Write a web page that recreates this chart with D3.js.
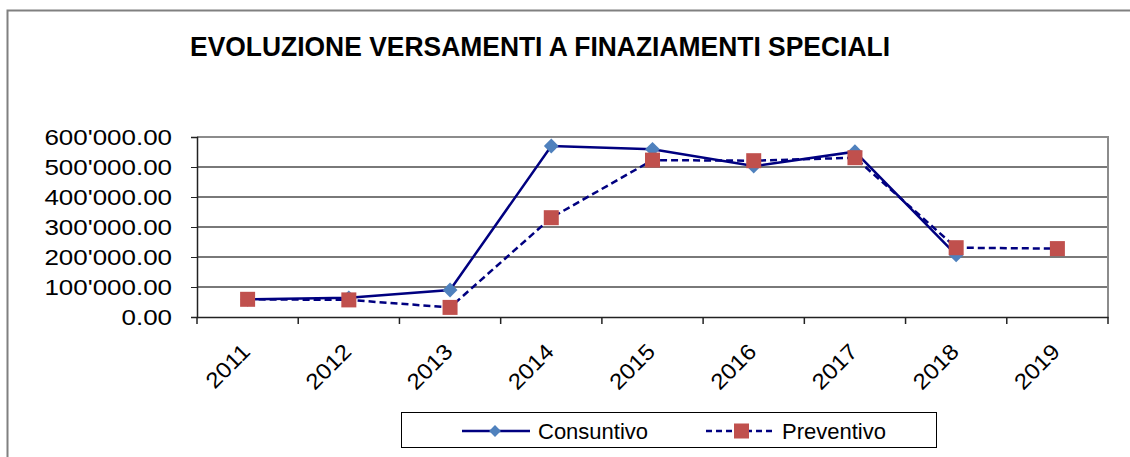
<!DOCTYPE html>
<html>
<head>
<meta charset="utf-8">
<script src="https://cdn.jsdelivr.net/npm/d3@7"></script>
<style>
  body { margin: 0; background: #fff; }
  svg { display: block; font-family: "Liberation Sans", Arial, sans-serif; }
</style>
</head>
<body>
<div id="chart"></div>
<script>
// Data
var years = ["2011", "2012", "2013", "2014", "2015", "2016", "2017", "2018", "2019"];
var consuntivo = [59000, 64000, 90000, 570000, 559000, 503000, 551000, 207000, null];
var preventivo = [59000, 57000, 32000, 331000, 523000, 521000, 531000, 231000, 228000];
var yTicks = [0, 100000, 200000, 300000, 400000, 500000, 600000];
var title = "EVOLUZIONE VERSAMENTI A FINAZIAMENTI SPECIALI";

var width = 1130, height = 457;
var plot = { left: 197, right: 1108, top: 137, bottom: 317 };

var svg = d3.select("#chart").append("svg")
    .attr("width", width)
    .attr("height", height);

// Outer chart frame (only left and top edges are visible)
svg.append("path")
    .attr("d", "M7.5,457 L7.5,10.5 L1130,10.5")
    .attr("fill", "none")
    .attr("stroke", "#808080")
    .attr("stroke-width", 2);

svg.append("text")
    .attr("x", 190)
    .attr("y", 56)
    .attr("textLength", 700)
    .attr("lengthAdjust", "spacingAndGlyphs")
    .style("font-size", "27px")
    .style("font-weight", "bold")
    .text(title);

var x = d3.scaleBand().domain(years).range([plot.left, plot.right]);
var y = d3.scaleLinear().domain([0, 600000]).range([plot.bottom, plot.top]);

// Grid lines
svg.append("g").selectAll("line")
    .data(yTicks.slice(1, -1))
    .join("line")
    .attr("x1", plot.left).attr("x2", plot.right)
    .attr("y1", function(d) { return y(d); })
    .attr("y2", function(d) { return y(d); })
    .attr("stroke", "#4d4d4d")
    .attr("stroke-width", 1.5);

// Plot border (top and right)
svg.append("path")
    .attr("d", "M" + plot.left + "," + plot.top + " L" + plot.right + "," + plot.top + " L" + plot.right + "," + plot.bottom)
    .attr("fill", "none")
    .attr("stroke", "#8c8c8c")
    .attr("stroke-width", 2);

// Y axis
var fmt = function(d) {
    var s = d3.format(",.2f")(d);
    return s.replace(/,/g, "'");
};
var yAxis = svg.append("g")
    .attr("transform", "translate(" + plot.left + ",0)")
    .call(d3.axisLeft(y).tickValues(yTicks).tickFormat("").tickSize(6));
yAxis.select(".domain").attr("stroke", "#222").attr("stroke-width", 1.5);
yAxis.selectAll(".tick line").attr("stroke", "#222");

svg.append("g").selectAll("text")
    .data(yTicks)
    .join("text")
    .attr("transform", function(d) { return "translate(172," + y(d) + ") scale(1.18,1)"; })
    .attr("text-anchor", "end")
    .attr("dy", "0.36em")
    .style("font-size", "22px")
    .text(fmt);

// X axis
var xAxis = svg.append("g")
    .attr("transform", "translate(0," + plot.bottom + ")")
    .call(d3.axisBottom(x).tickSize(0).tickFormat(""));
xAxis.select(".domain").attr("stroke", "#222").attr("stroke-width", 1.5);

svg.append("g").selectAll("line")
    .data(years.concat(["end"]))
    .join("line")
    .attr("x1", function(d, i) { return plot.left + i * x.step(); })
    .attr("x2", function(d, i) { return plot.left + i * x.step(); })
    .attr("y1", plot.bottom)
    .attr("y2", plot.bottom + 7)
    .attr("stroke", "#222")
    .attr("stroke-width", 1.5);

svg.append("g").selectAll("text")
    .data(years)
    .join("text")
    .attr("transform", function(d) {
        return "translate(" + (x(d) + x.bandwidth() / 2 + 4) + "," + (plot.bottom + 36) + ") rotate(-45) scale(1.1,1)";
    })
    .attr("text-anchor", "end")
    .style("font-size", "22px")
    .text(function(d) { return d; });

var cx = function(d, i) { return x(years[i]) + x.bandwidth() / 2; };

var lineGen = d3.line()
    .defined(function(d) { return d != null; })
    .x(cx)
    .y(function(d) { return y(d); });

var navy = "#000080", blue = "#4F81BD", red = "#C0504D";

// Preventivo (dashed, squares)
svg.append("path")
    .datum(preventivo)
    .attr("d", lineGen)
    .attr("fill", "none")
    .attr("stroke", navy)
    .attr("stroke-width", 2.5)
    .attr("stroke-dasharray", "7,4");

// Consuntivo (solid, diamonds)
svg.append("path")
    .datum(consuntivo)
    .attr("d", lineGen)
    .attr("fill", "none")
    .attr("stroke", navy)
    .attr("stroke-width", 2.5);

var diamond = d3.symbol().type(d3.symbolSquare).size(110);

svg.append("g").selectAll("path")
    .data(consuntivo.map(function(v, i) { return { v: v, i: i }; }).filter(function(d) { return d.v != null; }))
    .join("path")
    .attr("d", diamond)
    .attr("transform", function(d) { return "translate(" + cx(d.v, d.i) + "," + y(d.v) + ") rotate(45)"; })
    .attr("fill", blue);

svg.append("g").selectAll("rect")
    .data(preventivo)
    .join("rect")
    .attr("x", function(d, i) { return cx(d, i) - 7.5; })
    .attr("y", function(d) { return y(d) - 7.5; })
    .attr("width", 15)
    .attr("height", 15)
    .attr("fill", red);

// Legend
var legend = svg.append("g");
legend.append("rect")
    .attr("x", 401.5).attr("y", 412.5)
    .attr("width", 535).attr("height", 35)
    .attr("fill", "#fff")
    .attr("stroke", "#000")
    .attr("stroke-width", 1);

var legendItems = [
    { name: "Consuntivo", x0: 462, dash: null, marker: "diamond" },
    { name: "Preventivo", x0: 706, dash: "6,4", marker: "square" }
];
var ly = 431;
legendItems.forEach(function(it) {
    legend.append("line")
        .attr("x1", it.x0).attr("x2", it.x0 + 68)
        .attr("y1", ly).attr("y2", ly)
        .attr("stroke", navy)
        .attr("stroke-width", 2.5)
        .attr("stroke-dasharray", it.dash);
    if (it.marker === "diamond") {
        legend.append("path")
            .attr("d", d3.symbol().type(d3.symbolSquare).size(70)())
            .attr("transform", "translate(" + (it.x0 + 33) + "," + ly + ") rotate(45)")
            .attr("fill", blue);
    } else {
        legend.append("rect")
            .attr("x", it.x0 + 28).attr("y", ly - 7.5)
            .attr("width", 15).attr("height", 15)
            .attr("fill", red);
    }
    legend.append("text")
        .attr("x", it.x0 + 76)
        .attr("y", ly)
        .attr("dy", "0.36em")
        .style("font-size", "22px")
        .text(it.name);
});
</script>
</body>
</html>
